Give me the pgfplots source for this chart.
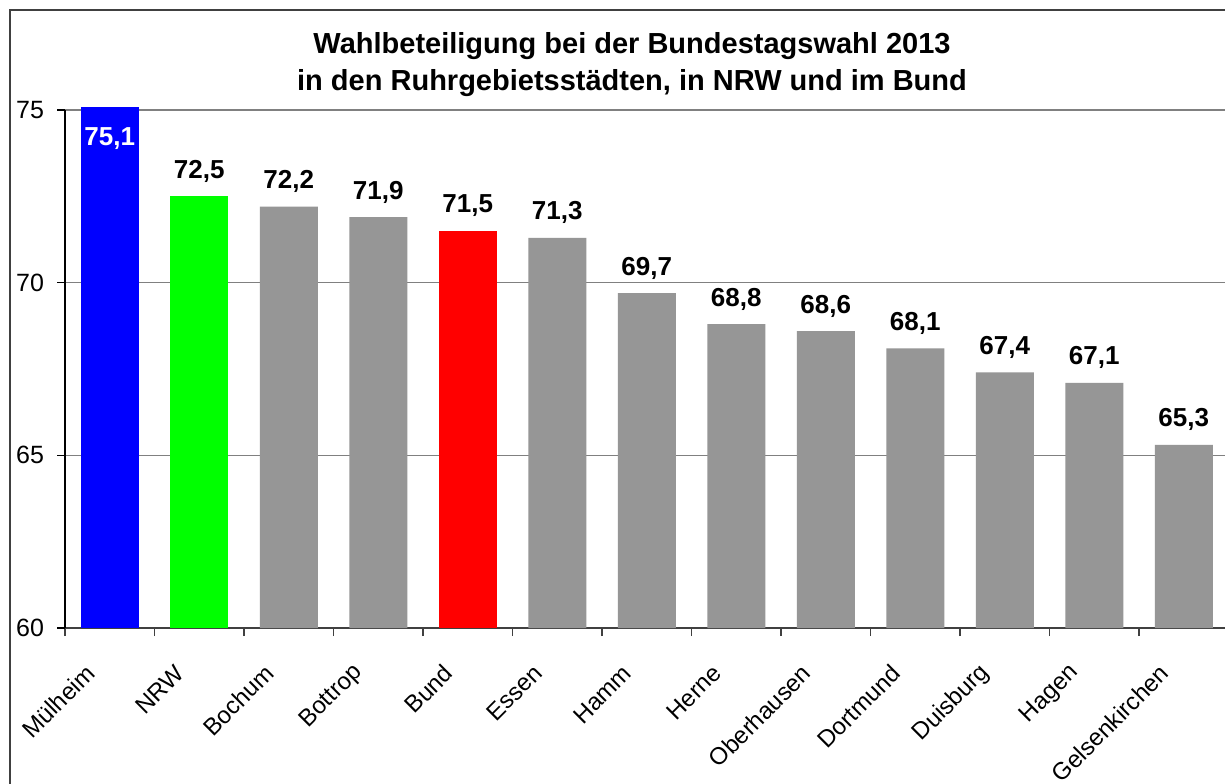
\documentclass[border=0pt]{standalone}
\usepackage{pgfplots}
\pgfplotsset{compat=1.18}
\usepackage{fontspec}
\setmainfont{Liberation Sans}
\definecolor{barblue}{RGB}{0,0,255}
\definecolor{bargreen}{RGB}{0,255,0}
\definecolor{barred}{RGB}{255,0,0}
\definecolor{bargray}{RGB}{150,150,150}
\definecolor{gridgray}{RGB}{128,128,128}
\definecolor{framegray}{RGB}{64,64,64}
\begin{document}
\begin{tikzpicture}
\useasboundingbox (0,0) rectangle (612.5pt,391.5pt);
\fill[white] (0,0) rectangle (612.5pt,391.5pt);
\draw[framegray, line width=1pt] (5pt,-5pt) -- (5pt,386.5pt) -- (620pt,386.5pt);
\node[align=center, font=\bfseries\fontsize{14.5}{18.5}\selectfont] at (316pt,359pt)
  {Wahlbeteiligung bei der Bundestagswahl 2013\\in den Ruhrgebietsstädten, in NRW und im Bund};
\begin{axis}[
  at={(32.5pt,77.5pt)}, anchor=south west,
  width=581.75pt, height=259pt, scale only axis,
  xmin=-0.5, xmax=12.5, ymin=60, ymax=75,
  clip=false,
  ybar, bar width=29pt,
  axis x line*=bottom, axis y line*=left,
  x axis line style={framegray, line width=0.8pt},
  y axis line style={black, line width=0.6pt},
  tick align=outside, major tick length=4pt,
  xtick={-0.5,0.5,...,12.5},
  xticklabels={Mülheim,NRW,Bochum,Bottrop,Bund,Essen,Hamm,Herne,Oberhausen,Dortmund,Duisburg,Hagen,Gelsenkirchen,{}},
  xticklabel style={xshift=12.8pt, yshift=-16.5pt, rotate=45, anchor=east, inner sep=0pt, font=\fontsize{12}{14}\selectfont},
  x tick style={framegray, line width=0.6pt},
  ytick={60,65,70,75},
  yticklabel style={xshift=-3pt, font=\fontsize{12.5}{14}\selectfont},
  y tick style={black, line width=0.6pt},
  /pgf/number format/assume math mode=true,
  ymajorgrids, grid style={gridgray, line width=0.6pt},
  point meta=explicit symbolic,
  every node near coord/.append style={font=\bfseries\fontsize{13}{15}\selectfont, anchor=base, inner sep=0pt},
]
\addplot[fill=barblue, draw=none, bar shift=0pt, nodes near coords,
  every node near coord/.append style={white, yshift=-19.5pt}]
  coordinates {(0,75.1) [75,1]};
\addplot[fill=bargreen, draw=none, bar shift=0pt, nodes near coords,
  every node near coord/.append style={black, yshift=9pt}]
  coordinates {(1,72.5) [72,5]};
\addplot[fill=barred, draw=none, bar shift=0pt, nodes near coords,
  every node near coord/.append style={black, yshift=9pt}]
  coordinates {(4,71.5) [71,5]};
\addplot[fill=bargray, draw=none, bar shift=0pt, nodes near coords,
  every node near coord/.append style={black, yshift=9pt}]
  coordinates {(2,72.2) [72,2] (3,71.9) [71,9] (5,71.3) [71,3] (6,69.7) [69,7]
    (7,68.8) [68,8] (8,68.6) [68,6] (9,68.1) [68,1] (10,67.4) [67,4]
    (11,67.1) [67,1] (12,65.3) [65,3]};
\end{axis}
\end{tikzpicture}
\end{document}
